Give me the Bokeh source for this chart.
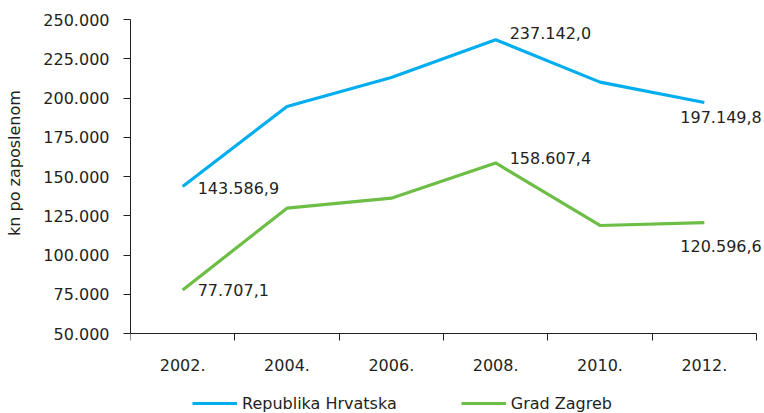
from bokeh.plotting import figure
from bokeh.models import ColumnDataSource, Range1d, FixedTicker, Legend, LegendItem
from bokeh.core.properties import value
from bokeh.embed import file_html
from bokeh.resources import INLINE

# ---- data ----
years = ["2002.", "2004.", "2006.", "2008.", "2010.", "2012."]
hrvatska = [143586.9, 194600.0, 213100.0, 237142.0, 210100.0, 197149.8]
zagreb = [77707.1, 129800.0, 136200.0, 158607.4, 118800.0, 120596.6]
y_ticks = [50000, 75000, 100000, 125000, 150000, 175000, 200000, 225000, 250000]
series_names = ["Republika Hrvatska", "Grad Zagreb"]
y_title = "kn po zaposlenom"
labelled_points = [0, 3, 5]

# ---- styles / layout ----
FONT = "DejaVu Sans"
TXT = "#231F20"
BLUE = "#00AEEF"
GREEN = "#6DBE45"
hr_offsets = [(15, 1), (14, -7), (-24, 15)]
zg_offsets = [(15, 0), (14, -5), (-24, 23)]
TITLE_PAD = 21         # non-breaking spaces lifting the rotated axis title

W, H = 764, 413
FRAME_L, FRAME_T = 130, 19
AXIS_PX = 314          # pixel height of the value axis (50.000 .. 250.000)
CAT_PX = 626 / len(years)


def hr_fmt(v, dec=1):
    s = f"{v:,.{dec}f}"
    return s.replace(",", "X").replace(".", ",").replace("X", ".")


xs = list(range(len(years)))
x_end = -0.5 + (W - FRAME_L) / CAT_PX
below_px = H - FRAME_T - AXIS_PX
y_start = y_ticks[0] - (y_ticks[-1] - y_ticks[0]) * below_px / AXIS_PX

p = figure(width=W, height=H,
           x_range=Range1d(-0.5, x_end),
           y_range=Range1d(y_start, y_ticks[-1]),
           output_backend="svg", toolbar_location=None,
           min_border_left=FRAME_L, min_border_right=0,
           min_border_top=FRAME_T, min_border_bottom=0)
p.xgrid.visible = False
p.ygrid.visible = False
p.outline_line_color = None
p.background_fill_color = "white"
p.border_fill_color = "white"

xa = p.xaxis[0]
xa.fixed_location = y_ticks[0]
xa.bounds = (-0.5, len(years) - 0.5)
xa.ticker = FixedTicker(ticks=xs, minor_ticks=[i - 0.5 for i in range(len(years) + 1)])
xa.major_label_overrides = {i: y for i, y in zip(xs, years)}
xa.major_tick_line_color = None
xa.major_tick_out = 0
xa.major_tick_in = 0
xa.minor_tick_out = 7
xa.minor_tick_in = 0
xa.minor_tick_line_color = TXT
xa.minor_tick_line_width = 1
xa.axis_line_color = TXT
xa.axis_line_width = 1
xa.major_label_standoff = 18
xa.major_label_text_font = FONT
xa.major_label_text_font_size = "16px"
xa.major_label_text_color = TXT

ya = p.yaxis[0]
ya.bounds = (y_ticks[0], y_ticks[-1])
ya.ticker = FixedTicker(ticks=y_ticks, minor_ticks=[])
ya.major_label_overrides = {t: hr_fmt(t, 0) for t in y_ticks}
ya.major_tick_out = 7
ya.major_tick_in = 0
ya.major_tick_line_color = TXT
ya.minor_tick_line_color = None
ya.axis_line_color = TXT
ya.axis_line_width = 1
ya.major_label_standoff = 14
ya.major_label_text_font = FONT
ya.major_label_text_font_size = "16px"
ya.major_label_text_color = TXT
ya.axis_label = "\u00a0" * TITLE_PAD + y_title
ya.axis_label_standoff = 16
ya.axis_label_text_font = FONT
ya.axis_label_text_font_size = "16px"
ya.axis_label_text_font_style = "normal"
ya.axis_label_text_color = TXT

r1 = p.line(xs, hrvatska, line_color=BLUE, line_width=3.2)
r2 = p.line(xs, zagreb, line_color=GREEN, line_width=3.2)

for vals, offs in ((hrvatska, hr_offsets), (zagreb, zg_offsets)):
    src = ColumnDataSource(dict(
        x=[xs[i] for i in labelled_points],
        y=[vals[i] for i in labelled_points],
        t=[hr_fmt(vals[i]) for i in labelled_points],
        xo=[o[0] for o in offs],
        yo=[o[1] for o in offs],
    ))
    p.text(x="x", y="y", text="t", x_offset="xo", y_offset="yo", source=src,
           text_font=value(FONT), text_font_size="16px", text_color=TXT,
           text_align="left", text_baseline="alphabetic")

legend = Legend(items=[LegendItem(label=series_names[0], renderers=[r1]),
                       LegendItem(label=series_names[1], renderers=[r2])],
                location=(62, 0), orientation="horizontal",
                glyph_width=45, glyph_height=20, label_standoff=5, spacing=64,
                padding=0, margin=0, border_line_color=None,
                background_fill_alpha=0,
                label_text_font=FONT, label_text_font_size="16px",
                label_text_color=TXT)
p.add_layout(legend, "center")

open("out.html", "w").write(file_html(p, INLINE))
